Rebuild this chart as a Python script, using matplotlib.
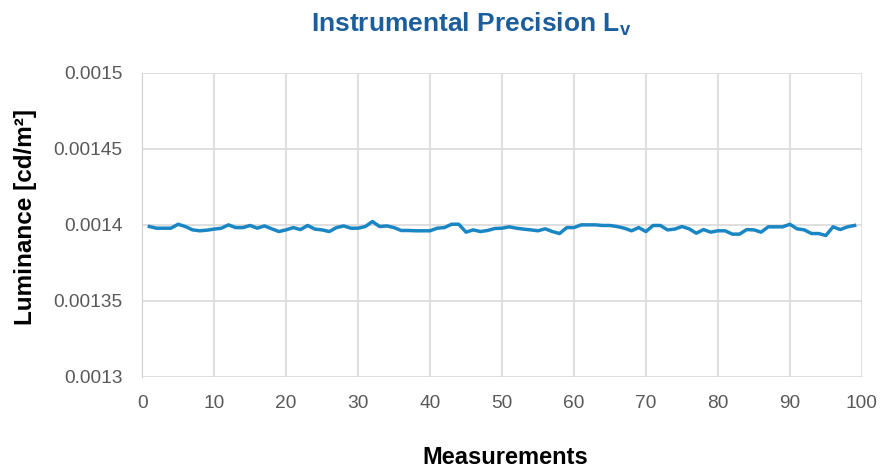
import numpy as np
import matplotlib.pyplot as plt

plt.rcParams['font.family'] = ['Liberation Sans', 'DejaVu Sans']

measurements = list(range(1, 100))
luminance = [
    0.0013989, 0.0013978, 0.0013978, 0.0013978, 0.0014004, 0.0013989, 0.0013967, 0.0013961, 0.0013965, 0.0013972,
    0.0013978, 0.0014000, 0.0013982, 0.0013982, 0.0013996, 0.0013978, 0.0013993, 0.0013974, 0.0013956, 0.0013967,
    0.0013982, 0.0013969, 0.0013996, 0.0013972, 0.0013967, 0.0013956, 0.0013982, 0.0013993, 0.0013978, 0.0013978,
    0.0013989, 0.0014022, 0.0013989, 0.0013993, 0.0013982, 0.0013963, 0.0013963, 0.0013961, 0.0013961, 0.0013961,
    0.0013978, 0.0013982, 0.0014004, 0.0014004, 0.0013952, 0.0013967, 0.0013956, 0.0013963, 0.0013976, 0.0013978,
    0.0013987, 0.0013978, 0.0013972, 0.0013967, 0.0013961, 0.0013974, 0.0013956, 0.0013943, 0.0013982, 0.0013982,
    0.0014000, 0.0014000, 0.0014000, 0.0013996, 0.0013996, 0.0013989, 0.0013978, 0.0013961, 0.0013982, 0.0013956,
    0.0013996, 0.0013996, 0.0013967, 0.0013972, 0.0013989, 0.0013974, 0.0013945, 0.0013969, 0.0013952, 0.0013961,
    0.0013961, 0.0013939, 0.0013939, 0.0013969, 0.0013967, 0.0013952, 0.0013987, 0.0013987, 0.0013987, 0.0014004,
    0.0013974, 0.0013967, 0.0013943, 0.0013943, 0.0013930, 0.0013987, 0.0013969, 0.0013987, 0.0013996,
]
x_ticks = list(range(0, 101, 10))
y_ticks = [0.0013, 0.00135, 0.0014, 0.00145, 0.0015]
y_tick_labels = ['0.0013', '0.00135', '0.0014', '0.00145', '0.0015']

fig = plt.figure(figsize=(8.94, 4.67), dpi=100)
ax = fig.add_axes([0.159, 0.193, 0.805, 0.651])

ax.plot(measurements, luminance, color='#1a87c4', linewidth=2.5, solid_joinstyle='round')

ax.set_xlim(0, 100)
ax.set_ylim(0.0013, 0.0015)
ax.set_xticks(x_ticks)
ax.set_yticks(y_ticks)
ax.set_yticklabels(y_tick_labels)
ax.grid(True, color='#d9d9d9', linewidth=1.2)
ax.set_axisbelow(True)
for s in ['top', 'right', 'bottom']:
    ax.spines[s].set_visible(False)
ax.spines['left'].set_color('#d0d0d0')
ax.tick_params(length=0, labelsize=13.8, labelcolor='#595959')
ax.tick_params(axis='x', pad=13)
ax.tick_params(axis='y', pad=14)

fig.text(0.565, 0.021, 'Measurements', ha='center', va='center',
         fontsize=17, fontweight='bold')
fig.text(0.028, 0.535, 'Luminance [cd/m²]', ha='center', va='center', rotation=90,
         fontsize=17.5, fontweight='bold')

fig.text(0.527, 0.948, 'Instrumental Precision L$_\\mathregular{v}$', ha='center', va='center',
         fontsize=19, fontweight='bold', color='#1b5e9b')

fig.savefig('out.png', dpi=100)
